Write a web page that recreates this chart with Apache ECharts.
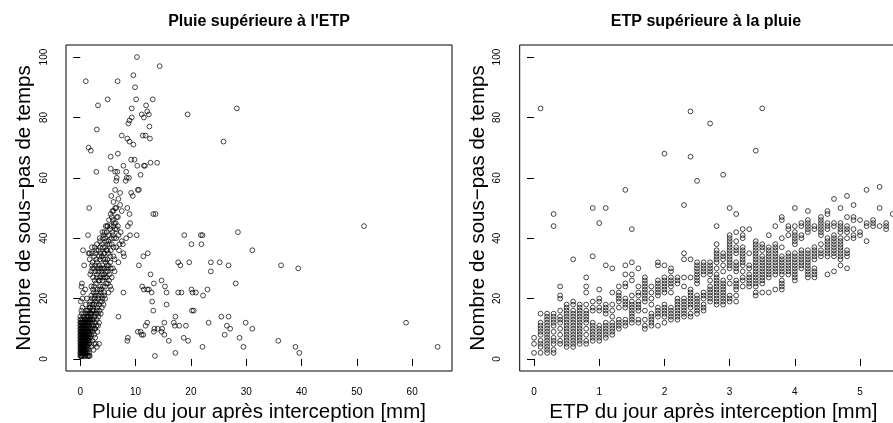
<!DOCTYPE html>
<html>
<head>
<meta charset="utf-8">
<script src="https://cdn.jsdelivr.net/npm/echarts@6/dist/echarts.min.js"></script>
<style>
  html, body { margin: 0; padding: 0; background: #fff; }
  #chart { width: 893px; height: 423px; }
</style>
</head>
<body>
<div id="chart"></div>
<script>
// Days where rain exceeds ETP: [rain after interception (mm), number of sub-steps]
const pluieJours = [
  [10.25,100],[14.35,97],[1.0,92],[6.75,92],[9.6,94],[9.9,90],[4.95,86],[10.1,86],[13.1,86],[3.2,84],
  [11.9,84],[9.3,83],[12.1,82],[12.4,81],[11.1,81],[11.5,80],[9.3,80],[8.9,79],[8.7,78],[19.4,81],
  [28.3,83],[3.0,76],[12.5,77],[7.5,74],[8.5,73],[8.9,72],[9.6,71],[11.3,74],[11.8,74],[12.6,73],
  [25.9,72],[1.5,70],[1.9,69],[6.8,68],[5.5,67],[9.2,66],[9.8,66],[2.9,62],[5.5,63],[6.3,62],
  [6.7,62],[7.8,64],[10.3,64],[11.5,64],[11.7,64],[12.7,65],[13.9,65],[8.3,62],[8.4,60],[8.2,59],
  [8.8,60],[6.6,60],[6.5,59],[10.9,61],[10.4,56],[10.6,56],[6.3,56],[5.6,54],[7.2,55],[9.2,55],
  [9.5,54],[6.9,53],[6.0,52],[1.6,50],[6.3,50],[6.5,50],[8.5,50],[6.0,49],[7.5,49],[5.5,48],
  [8.9,48],[13.2,48],[13.6,48],[5.9,46],[9.0,45],[8.6,44],[4.9,44],[6.8,44],[1.4,41],[9.0,41],
  [10.2,41],[18.8,41],[21.8,41],[22.1,41],[28.5,42],[51.3,44],[20.1,38],[21.9,38],[7.7,38],[8.3,40],
  [0.5,36],[1.7,35],[2.1,37],[31.1,36],[7.8,35],[7.9,34],[12.2,35],[11.4,34],[17.7,32],[19.7,32],
  [23.6,32],[25.2,32],[18.1,31],[26.8,31],[36.3,31],[39.4,30],[10.6,31],[23.6,29],[12.7,28],[0.7,31],
  [13.3,25],[14.7,26],[15.3,24],[28.1,25],[11.2,24],[11.5,23],[12.1,23],[12.4,23],[12.9,22],[15.6,22],
  [17.7,22],[18.3,22],[20.1,23],[20.3,22],[20.9,22],[23.0,23],[22.2,21],[7.8,22],[13.0,19],[15.6,18],
  [20.2,16],[20.5,16],[13.2,16],[6.9,14],[17.2,14],[25.5,14],[26.8,14],[23.2,12],[29.9,12],[58.9,12],
  [15.2,12],[12.1,12],[11.8,11],[16.9,12],[17.1,11],[17.9,11],[19.1,11],[26.5,11],[27.1,10],[31.1,10],
  [13.4,10],[14.0,10],[14.8,10],[13.3,9],[14.7,9],[10.4,9],[10.9,9],[11.1,8],[11.4,8],[15.2,8],
  [26.1,8],[8.6,7],[18.7,7],[28.8,7],[8.5,6],[16.0,6],[19.5,6],[35.8,6],[22.1,4],[29.5,4],
  [38.9,4],[64.6,4],[39.6,2],[17.2,2],[13.5,1],
  // main band
  [4.9,44],[5.4,43],[5.8,42],[6.3,43],[5.9,41],[4.4,42],[4.2,41],[4.5,40],[4.7,39],[4.1,40],
  [5.1,39],[5.3,38],[5.7,38],[6.0,37],[4.5,37],[3.9,38],[3.6,37],[3.3,36],[3.7,35],[4.2,35],
  [4.7,36],[5.1,35],[5.4,34],[6.0,34],[6.5,37],[7.0,36],[7.5,39],[6.5,40],[7.1,38],[3.6,33],
  [4.2,33],[4.9,33],[5.4,32],[6.2,33],[6.9,32],[3.0,32],[2.7,31],[3.4,31],[3.9,30],[4.3,30],
  [4.8,31],[5.9,30],[6.2,29],[5.7,27],[5.2,26],[5.0,25],[5.4,24],[5.6,23],[3.9,29],[3.3,29],
  [2.7,29],[3.0,28],[3.6,27],[4.3,28],[4.8,27],[4.0,26],[3.3,26],[2.6,26],[2.8,25],[3.6,24],
  [4.5,24],[5.1,22],[4.3,22],[3.7,22],[3.1,23],[2.5,24],[2.4,22],[2.0,21],[2.7,21],[3.3,21],
  [4.0,20],[4.5,20],[3.6,19],[2.8,19],[2.1,20],[1.8,19],[2.5,18],[3.1,17],[3.9,17],[4.2,18],
  [3.7,15],[3.3,14],[3.0,13],[2.2,16],[1.7,17],[1.4,15],[1.9,14],[2.6,14],[2.7,12],[2.1,12],
  [1.5,12],[1.0,13],[1.3,11],[1.9,10],[2.7,10],[3.2,11],[3.1,9],[2.5,8],[1.7,8],[1.1,9],
  [0.9,7],[1.5,6],[2.2,6],[2.7,7],[2.8,5],[2.0,4],[1.3,5],[0.7,4],[0.3,3],[0.9,2],
  [1.6,2],[0.5,1],[0.2,2],[0,4],[0,6],[0.2,7],[0,9],[0.2,10],[0,11],[0.2,12],
  [0.5,14],[0.3,15],[0.2,16],[0.4,17],[0.1,19],[0.4,20],[0.5,22],[0.2,24],[0.9,23],[0.3,25],
  [1.2,20],[1.8,28],[2.0,29],[2.2,30],[2.1,31],[1.7,33],[2.2,32],[2.5,34],[1.5,35],[2.1,35],
  [2.7,35],[1.0,15],[1.1,16],[1.0,18],[0,14],[1.1,10],[0.6,8],[1.6,5],[2.4,3],[2.5,5],
  [3.0,4],[3.4,5],[3.0,38],[3.5,40],[4.0,42],[4.6,44],[5.2,46],[5.7,47],[6.1,45],[6.6,47],
  [3.4,34],[2.9,33],[4.6,32],[5.0,29],[4.5,27],[3.8,23],[2.3,27],[2.0,24],[2.9,15],[2.4,11],
  [2.3,23],[2.9,22],[3.5,23],[4.1,24],[4.7,25],[2.6,20],[3.2,20],[3.8,21],[4.3,21],[2.2,18],
  [2.9,18],[3.4,18],[3.9,19],[2.4,16],[3.0,16],[3.5,16],[2.0,15],[2.6,15],[3.2,15],[1.9,13],
  [2.4,13],[3.4,12],[2.9,11],[2.2,10],[3.5,26],[4.2,27],[3.0,27],[3.9,28],[4.6,29],[3.6,30],
  [4.9,30],[3.2,30],[4.0,31],[4.5,33],[3.9,34],[4.4,35],[4.9,36],[5.5,36],[4.9,38],[5.6,40],
  [5.2,41],[4.8,42],[5.5,44],[6.0,44],[6.6,43],[6.1,40],[6.9,41],[7.3,42],[6.4,45],[5.8,49],
  [6.8,47],[7.2,51],[5.1,31],[5.5,30],[5.3,28],[4.1,37],[3.6,39],[2.5,30],[2.9,36],[2.6,37],
  // low-rain cluster
  [0.0,1],[0.0,2],[0.0,3],[0.0,5],[0.0,7],[0.0,8],[0.0,10],[0.0,12],[0.0,13],
  [0.1,1],[0.1,2],[0.1,3],[0.1,4],[0.1,5],[0.1,6],[0.1,7],[0.1,8],[0.1,9],[0.1,10],[0.1,11],[0.1,12],
  [0.2,1],[0.2,3],[0.2,4],[0.2,5],[0.2,6],[0.2,8],[0.2,9],[0.2,11],[0.2,13],
  [0.3,1],[0.3,2],[0.3,4],[0.3,5],[0.3,6],[0.3,7],[0.3,8],[0.3,9],[0.3,10],[0.3,12],
  [0.4,2],[0.4,3],[0.4,4],[0.4,5],[0.4,6],[0.4,7],[0.4,8],[0.4,9],[0.4,11],[0.4,12],
  [0.5,2],[0.5,3],[0.5,4],[0.5,5],[0.5,6],[0.5,7],[0.5,8],[0.5,10],[0.5,11],[0.5,13],
  [0.6,2],[0.6,3],[0.6,4],[0.6,5],[0.6,6],[0.6,7],[0.6,9],[0.6,10],[0.6,12],
  [0.7,1],[0.7,3],[0.7,5],[0.7,6],[0.7,8],[0.7,9],[0.7,11],[0.7,12],[0.7,14],
  [0.8,2],[0.8,4],[0.8,5],[0.8,6],[0.8,7],[0.8,8],[0.8,10],[0.8,11],[0.8,13],
  [0.9,1],[0.9,3],[0.9,5],[0.9,6],[0.9,9],[0.9,10],[0.9,12],
  [1.0,2],[1.0,4],[1.0,6],[1.0,7],[1.0,8],[1.0,9],[1.0,11],
  [1.1,3],[1.1,5],[1.1,7],[1.1,8],[1.1,12],[1.1,14],
  [1.2,1],[1.2,4],[1.2,6],[1.2,8],[1.2,9],[1.2,11],[1.2,13],
  [1.3,2],[1.3,7],[1.3,9],[1.3,10],[1.3,12],[1.3,14],[1.3,16],
  [1.4,1],[1.4,3],[1.4,6],[1.4,8],[1.4,11],[1.4,13],
  [1.5,4],[1.5,7],[1.5,9],[1.5,10],[1.5,14],
  [1.6,1],[1.6,8],[1.6,11],[1.6,13],[1.6,16],
  [1.7,1],[1.7,6],[1.7,9],[1.7,12],[1.7,15],[1.7,18],
  [1.8,7],[1.8,10],[1.8,13],[1.8,17],
  [2.0,8],[2.0,11],[2.0,15],[2.2,9],[2.2,13],[2.5,10],[2.3,17],[2.6,20]
];

// Days where ETP exceeds rain: ETP after interception (mm) -> number of sub-steps
const etpColonnes = [
  [0.0,[2,5,7]],
  [0.1,[2,4,5,6,8,9,10,11,12,15,83]],
  [0.2,[2,3,4,5,6,7,8,9,10,11,12,13,14,15]],
  [0.3,[2,3,5,6,7,9,11,12,13,14,15,44,48]],
  [0.4,[5,6,8,10,12,13,14,16,20,21,24]],
  [0.5,[4,5,6,7,8,9,10,11,12,13,14,15,16,17,18]],
  [0.6,[4,5,6,7,8,9,10,11,12,13,14,15,16,18,19,33]],
  [0.7,[5,6,7,8,9,10,11,12,13,14,15,16,17,18]],
  [0.8,[5,6,8,10,12,13,14,15,16,18,22,24,27]],
  [0.9,[6,7,8,9,10,11,12,16,17,19,34,50]],
  [1.0,[6,7,8,9,10,11,16,17,19,20,23,45]],
  [1.1,[7,8,9,10,11,12,15,16,17,18,31,50]],
  [1.2,[8,9,10,11,12,14,16,18,22,30]],
  [1.3,[10,11,12,13,17,19,20,21,22,24]],
  [1.4,[11,12,13,17,18,19,20,24,25,28,31,56]],
  [1.5,[12,13,14,15,16,17,18,19,21,26,28,32,43]],
  [1.6,[12,13,16,17,18,19,21,22,24,30]],
  [1.7,[10,11,13,16,19,20,21,22,23,24,25,26,27]],
  [1.8,[11,12,13,14,15,18,20,22,24]],
  [1.9,[11,14,15,16,17,21,22,23,24,25,26,31,32]],
  [2.0,[12,14,15,16,17,18,22,23,24,25,26,27,31,68]],
  [2.1,[13,14,15,16,17,22,24,25,26,27,29,30]],
  [2.2,[13,14,15,16,17,18,19,20,25,26,27]],
  [2.3,[14,15,16,17,18,19,20,24,27,33,35,51]],
  [2.4,[14,15,17,18,19,20,21,22,23,27,33,67,82]],
  [2.5,[15,16,17,18,19,20,21,25,26,27,28,29,30,31,32,59]],
  [2.6,[16,17,18,20,21,22,28,29,30,31,32]],
  [2.7,[19,20,21,22,23,24,26,28,29,30,31,32,78]],
  [2.8,[18,19,20,21,22,23,24,25,26,27,28,30,32,33,34,35,36,38,44]],
  [2.9,[18,19,20,21,22,23,24,25,26,29,31,33,34,35,61]],
  [3.0,[19,20,21,25,27,30,31,32,33,34,35,36,37,38,39,40,41,50]],
  [3.1,[19,21,23,24,25,26,29,30,31,32,35,36,37,39,42,48]],
  [3.2,[24,26,27,29,31,32,33,34,35,36,37,40,41,43]],
  [3.3,[24,25,26,27,28,30,31,35,43]],
  [3.4,[21,22,24,25,26,27,28,29,30,31,32,33,34,35,36,37,38,39,69]],
  [3.5,[22,25,26,27,28,29,30,31,32,33,34,36,37,38,83]],
  [3.6,[22,27,28,29,30,31,32,33,34,35,36,37,41]],
  [3.7,[23,28,29,30,31,32,33,34,35,36,37,38,44]],
  [3.8,[23,24,25,26,28,29,30,31,32,33,34,37,40,46,47]],
  [3.9,[28,29,30,31,32,33,34,35,41,43,44]],
  [4.0,[26,27,28,29,30,31,32,33,34,35,38,39,40,41,42,44,50]],
  [4.1,[30,31,32,33,34,35,36,40,41,44,45]],
  [4.2,[27,28,29,30,31,32,33,34,35,36,42,43,44,45,46,49]],
  [4.3,[27,28,29,30,33,34,35,36,37,43,44]],
  [4.4,[34,35,36,38,41,42,43,44,45,46,47]],
  [4.5,[28,34,35,36,37,38,39,40,43,44,45,48,49]],
  [4.6,[29,34,35,36,37,38,39,40,41,44,45,53]],
  [4.7,[31,33,34,35,36,37,38,39,40,42,43,44,45,50]],
  [4.8,[30,34,35,36,40,42,43,44,47,54]],
  [4.9,[40,41,43,46,47,51]],
  [5.0,[41,42,46]],
  [5.1,[39,44,45,56]],
  [5.2,[44,45,46]],
  [5.3,[44,50,57]],
  [5.4,[43,44,45]],
  [5.5,[48]]
];

const ticksPluie = [0, 10, 20, 30, 40, 50, 60];
const ticksEtp = [0, 1, 2, 3, 4, 5];
const ticksSousPas = [0, 20, 40, 60, 80, 100];

const titres = ["Pluie supérieure à l'ETP", 'ETP supérieure à la pluie'];
const nomsX = ['Pluie du jour après interception [mm]', 'ETP du jour après interception [mm]'];
const nomY = 'Nombre de sous\u2212pas de temps';

const etpJours = [];
etpColonnes.forEach(([x, ys]) => ys.forEach(y => etpJours.push([x, y])));

const FONT = '"Liberation Sans", Arial, Helvetica, sans-serif';

function axeX(idx, min, max, ticks, name) {
  return {
    type: 'value', gridIndex: idx, min: min, max: max,
    axisLine: { show: false },
    splitLine: { show: false },
    axisTick: { show: true, inside: false, length: 7, customValues: ticks,
                lineStyle: { color: '#000', width: 1 } },
    axisLabel: { customValues: ticks, color: '#000', fontSize: 10, fontFamily: FONT, margin: 16 },
    name: name, nameLocation: 'middle', nameGap: 31,
    nameTextStyle: { color: '#000', fontSize: 20.5, fontFamily: FONT }
  };
}
function axeY(idx) {
  return {
    type: 'value', gridIndex: idx, min: -4, max: 104,
    axisLine: { show: false },
    splitLine: { show: false },
    axisTick: { show: true, inside: false, length: 7, customValues: ticksSousPas,
                lineStyle: { color: '#000', width: 1 } },
    axisLabel: { customValues: ticksSousPas, color: '#000', fontSize: 10, fontFamily: FONT,
                 rotate: 90, margin: 17 },
    name: nomY, nameLocation: 'middle', nameGap: 31,
    nameTextStyle: { color: '#000', fontSize: 20.5, fontFamily: FONT }
  };
}
function nuage(idx, data) {
  return {
    type: 'scatter', xAxisIndex: idx, yAxisIndex: idx, data: data,
    symbol: 'circle', symbolSize: 4.8, silent: true,
    itemStyle: { color: 'rgba(0,0,0,0)', borderColor: '#000', borderWidth: 0.9 }
  };
}

const chart = echarts.init(document.getElementById('chart'), null, { renderer: 'canvas' });
chart.setOption({
  animation: false,
  backgroundColor: '#fff',
  grid: [
    { left: 66, top: 45, width: 386, height: 326, show: true, borderColor: '#000', borderWidth: 1,
      outerBoundsMode: 'none', containLabel: false },
    { left: 519.7, top: 45, width: 387.3, height: 326, show: true, borderColor: '#000', borderWidth: 1,
      outerBoundsMode: 'none', containLabel: false }
  ],
  xAxis: [
    axeX(0, -2.58, 67.2, ticksPluie, nomsX[0]),
    axeX(1, -0.22, 5.72, ticksEtp, nomsX[1])
  ],
  yAxis: [axeY(0), axeY(1)],
  series: [nuage(0, pluieJours), nuage(1, etpJours)],
  graphic: [
    { type: 'text', x: 259, y: 22, silent: true,
      style: { text: titres[0], font: 'bold 16px ' + FONT, fill: '#000',
               textAlign: 'center', textVerticalAlign: 'middle' } },
    { type: 'text', x: 706, y: 22, silent: true,
      style: { text: titres[1], font: 'bold 16px ' + FONT, fill: '#000',
               textAlign: 'center', textVerticalAlign: 'middle' } }
  ]
});
</script>
</body>
</html>
